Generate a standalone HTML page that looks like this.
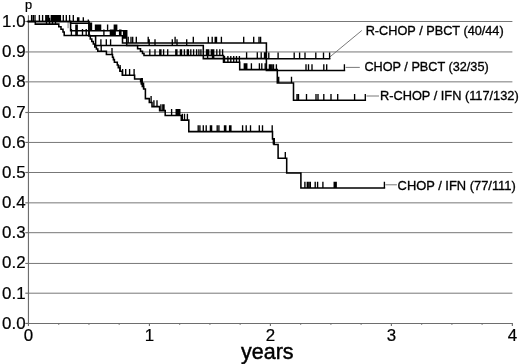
<!DOCTYPE html>
<html><head><meta charset="utf-8"><style>
html,body{margin:0;padding:0;background:#fff;width:520px;height:364px;overflow:hidden}
svg{display:block}
.g{stroke:#777;stroke-width:1}
.ax{stroke:#6e6e6e;stroke-width:1.15}
.ld{stroke:#6a6a6a;stroke-width:0.9}
text{font-family:"Liberation Sans",Arial,sans-serif;fill:#000;stroke:#000;stroke-width:0.22}
.tl{font-size:16.9px;stroke-width:0.22}
.xl{font-size:21.5px;stroke-width:0.45}
.pl{font-size:12.8px}
.lb{font-size:12.6px;stroke-width:0.32}
.c{fill:none;stroke:#000;stroke-width:1.55;stroke-linejoin:miter;stroke-linecap:square}
.t{fill:none;stroke:#000;stroke-width:1.35}
</style></head><body>
<svg width="520" height="364" viewBox="0 0 520 364">
<line x1="28.45" y1="293.20" x2="512.4" y2="293.20" class="g"/>
<line x1="28.45" y1="263.45" x2="512.4" y2="263.45" class="g"/>
<line x1="28.45" y1="232.70" x2="512.4" y2="232.70" class="g"/>
<line x1="28.45" y1="202.85" x2="512.4" y2="202.85" class="g"/>
<line x1="28.45" y1="172.50" x2="512.4" y2="172.50" class="g"/>
<line x1="28.45" y1="142.45" x2="512.4" y2="142.45" class="g"/>
<line x1="28.45" y1="112.50" x2="512.4" y2="112.50" class="g"/>
<line x1="28.45" y1="81.85" x2="512.4" y2="81.85" class="g"/>
<line x1="28.45" y1="51.95" x2="512.4" y2="51.95" class="g"/>
<line x1="28.45" y1="21.50" x2="512.4" y2="21.50" class="g"/>
<line x1="28.45" y1="15.2" x2="28.45" y2="323.95" class="ax"/>
<line x1="27.95" y1="323.45" x2="512.9" y2="323.45" class="ax"/>
<line x1="25.3" y1="323.45" x2="28.45" y2="323.45" class="ax"/>
<line x1="25.3" y1="293.20" x2="28.45" y2="293.20" class="ax"/>
<line x1="25.3" y1="263.45" x2="28.45" y2="263.45" class="ax"/>
<line x1="25.3" y1="232.70" x2="28.45" y2="232.70" class="ax"/>
<line x1="25.3" y1="202.85" x2="28.45" y2="202.85" class="ax"/>
<line x1="25.3" y1="172.50" x2="28.45" y2="172.50" class="ax"/>
<line x1="25.3" y1="142.45" x2="28.45" y2="142.45" class="ax"/>
<line x1="25.3" y1="112.50" x2="28.45" y2="112.50" class="ax"/>
<line x1="25.3" y1="81.85" x2="28.45" y2="81.85" class="ax"/>
<line x1="25.3" y1="51.95" x2="28.45" y2="51.95" class="ax"/>
<line x1="25.3" y1="21.50" x2="28.45" y2="21.50" class="ax"/>
<line x1="28.45" y1="323.45" x2="28.45" y2="326.05" class="ax"/>
<line x1="58.70" y1="323.45" x2="58.70" y2="324.75" class="ax"/>
<line x1="88.94" y1="323.45" x2="88.94" y2="324.75" class="ax"/>
<line x1="119.19" y1="323.45" x2="119.19" y2="324.75" class="ax"/>
<line x1="149.43" y1="323.45" x2="149.43" y2="326.05" class="ax"/>
<line x1="179.67" y1="323.45" x2="179.67" y2="324.75" class="ax"/>
<line x1="209.92" y1="323.45" x2="209.92" y2="324.75" class="ax"/>
<line x1="240.16" y1="323.45" x2="240.16" y2="324.75" class="ax"/>
<line x1="270.41" y1="323.45" x2="270.41" y2="326.05" class="ax"/>
<line x1="300.65" y1="323.45" x2="300.65" y2="324.75" class="ax"/>
<line x1="330.90" y1="323.45" x2="330.90" y2="324.75" class="ax"/>
<line x1="361.14" y1="323.45" x2="361.14" y2="324.75" class="ax"/>
<line x1="391.39" y1="323.45" x2="391.39" y2="326.05" class="ax"/>
<line x1="421.63" y1="323.45" x2="421.63" y2="324.75" class="ax"/>
<line x1="451.88" y1="323.45" x2="451.88" y2="324.75" class="ax"/>
<line x1="482.12" y1="323.45" x2="482.12" y2="324.75" class="ax"/>
<line x1="512.37" y1="323.45" x2="512.37" y2="326.05" class="ax"/>
<text x="25.6" y="328.85" class="tl" text-anchor="end">0.0</text>
<text x="25.6" y="298.66" class="tl" text-anchor="end">0.1</text>
<text x="25.6" y="268.47" class="tl" text-anchor="end">0.2</text>
<text x="25.6" y="238.28" class="tl" text-anchor="end">0.3</text>
<text x="25.6" y="208.09" class="tl" text-anchor="end">0.4</text>
<text x="25.6" y="177.90" class="tl" text-anchor="end">0.5</text>
<text x="25.6" y="147.71" class="tl" text-anchor="end">0.6</text>
<text x="25.6" y="117.52" class="tl" text-anchor="end">0.7</text>
<text x="25.6" y="87.33" class="tl" text-anchor="end">0.8</text>
<text x="25.6" y="57.14" class="tl" text-anchor="end">0.9</text>
<text x="25.6" y="26.95" class="tl" text-anchor="end">1.0</text>
<text x="28.55" y="340.6" class="tl" text-anchor="middle">0</text>
<text x="149.53" y="340.6" class="tl" text-anchor="middle">1</text>
<text x="270.51" y="340.6" class="tl" text-anchor="middle">2</text>
<text x="391.49" y="340.6" class="tl" text-anchor="middle">3</text>
<text x="512.47" y="340.6" class="tl" text-anchor="middle">4</text>
<text x="267.3" y="359.0" class="xl" text-anchor="middle">years</text>
<text x="24.9" y="9.4" class="pl">p</text>
<line x1="361.8" y1="30.5" x2="329.9" y2="56.9" class="ld"/>
<line x1="345.6" y1="67.4" x2="359.8" y2="67.4" class="ld"/>
<line x1="366.5" y1="96.0" x2="379" y2="96.0" class="ld"/>
<line x1="385.4" y1="184.8" x2="396.9" y2="184.8" class="ld"/>
<text x="365.7" y="34.7" class="lb" textLength="138" lengthAdjust="spacingAndGlyphs">R-CHOP / PBCT (40/44)</text>
<text x="364.4" y="70.5" class="lb" textLength="124.3" lengthAdjust="spacingAndGlyphs">CHOP / PBCT (32/35)</text>
<text x="380.0" y="99.5" class="lb" textLength="138.7" lengthAdjust="spacingAndGlyphs">R-CHOP / IFN (117/132)</text>
<text x="397.6" y="189.8" class="lb" textLength="118.2" lengthAdjust="spacingAndGlyphs">CHOP / IFN (77/111)</text>
<path d="M68.1,21.8 V28.2" stroke="#9a9a9a" stroke-width="1.3"/>
<path class="c" d="M28.4,21.4 H35.3 V24.1 H58.8 V26.7 H61 V29.2 H63 V31.9 H64.2 V35.4 H90.3 V38.9 H91.8 V41.4 H93.3 V43.9 H94.8 V46.9 H96.4 V49.0 H97.8 V51.2 H106.4 V54.4 H112.5 V57.2 H113.4 V59.6 H114.4 V62.2 H117.3 V65 H118.3 V67.6 H119.9 V71.2 H122.3 V75.3 H134.6 V78.9 H140.6 V81.4 H141.4 V83.9 H142.3 V86.4 H143.6 V88.9 H145.4 V98.6 H149.3 V102.4 H152 V106.6 H159.6 V110.6 H165.2 V115.4 H181.3 V120.1 H188.8 V131.6 H272.5 V138.9 H274 V144.4 H278.1 V158.3 H286.7 V173 H300.9 V188 H384.4"/>
<path class="c" d="M28.4,21.4 H89 V35.8 H122.5 V43.0 H266.4 V58.8 H329.6"/>
<path class="c" d="M28.4,21.4 H70.6 V30.7 H126.7 V45.5 H203.3 V58.6 H266.4 V70.5 H344.4"/>
<path class="c" d="M70.6,21.4 V23.3 H89 V35.8 H95.6 V45.5 H137.6 V48.7 H140.5 V51.2 H142.5 V53.4 H144 V55.5 H223.5 V62.2 H239.7 V69.6 H277.3 V83.0 H293.5 V100.2 H365.3"/>
<path class="t" d="M31.6,21.4 V15.1 M33.3,21.4 V15.1 M35,21.4 V15.1 M39.4,21.4 V15.1 M42.6,21.4 V15.1 M45.8,21.4 V15.1 M47.2,21.4 V15.1 M48.6,21.4 V15.1 M51.3,21.4 V15.1 M52.6,21.4 V15.1 M53.9,21.4 V15.1 M55.2,21.4 V15.1 M56.5,21.4 V15.1 M57.8,21.4 V15.1 M59.1,21.4 V15.1 M60.4,21.4 V15.1 M63.3,21.4 V15.1 M66.3,21.4 V15.1 M69.6,21.4 V15.1 M73.3,21.4 V15.1 M77.6,21.4 V17.2 M78.8,21.4 V17.2 M83.3,21.4 V17.2 M88.3,21.4 V19.6 M46.5,24.1 V17.8 M49.5,24.1 V17.8 M52.5,24.1 V17.8 M55.5,24.1 V17.8 M71.4,35.4 V29.1 M75.9,35.4 V29.1 M77.2,35.4 V29.1 M82.5,35.4 V29.1 M86.2,35.4 V29.1 M75.9,30.7 V24.4 M77.2,30.7 V24.4 M95.5,30.7 V24.4 M96.8,30.7 V24.4 M98,30.7 V24.4 M99.3,30.7 V24.4 M100.6,30.7 V24.4 M107.6,30.7 V24.4 M114.3,30.7 V24.4 M115.5,30.7 V24.4 M116.7,30.7 V24.4 M90.3,30.7 V22.4 M91.5,30.7 V22.4 M103.9,35.8 V29.5 M110.4,35.8 V29.5 M111.6,35.8 V29.5 M112.8,35.8 V29.5 M114,35.8 V29.5 M115.2,35.8 V29.5 M119.6,35.8 V29.5 M120.9,35.8 V29.5 M100.9,45.5 V39.2 M106.3,45.5 V39.2 M110.6,45.5 V39.2 M149.2,45.5 V39.2 M155,45.5 V39.2 M172.3,45.5 V39.2 M177,45.5 V39.2 M186.7,45.5 V39.2 M128.2,43.0 V36.7 M131,43.0 V36.7 M132.7,43.0 V36.7 M136.3,43.0 V36.7 M148.2,43.0 V36.7 M175.1,43.0 V36.7 M193.3,43.0 V36.7 M208.3,43.0 V36.7 M212.2,43.0 V36.7 M215.2,43.0 V36.7 M216.5,43.0 V36.7 M221.4,43.0 V36.7 M243.7,43.0 V36.7 M253.7,43.0 V36.7 M259,43.0 V36.7 M260.6,43.0 V36.7 M149.8,55.5 V49.2 M155,55.5 V49.2 M159.8,55.5 V49.2 M160.9,55.5 V49.2 M163.6,55.5 V49.2 M167.7,55.5 V49.2 M175.8,55.5 V49.2 M176.9,55.5 V49.2 M180.4,55.5 V49.2 M181.5,55.5 V49.2 M184.4,55.5 V49.2 M187.3,55.5 V49.2 M188.4,55.5 V49.2 M190.8,55.5 V49.2 M193.6,55.5 V49.2 M196.6,55.5 V49.2 M198.9,55.5 V49.2 M200.9,55.5 V49.2 M206.5,55.5 V49.2 M207.6,55.5 V49.2 M208.7,55.5 V49.2 M211.3,55.5 V49.2 M212.5,55.5 V49.2 M213.7,55.5 V49.2 M216.8,55.5 V49.2 M219.8,55.5 V49.2 M222.6,55.5 V49.2 M207.6,58.6 V52.3 M212.5,58.6 V52.3 M213.7,58.6 V52.3 M246.6,58.6 V52.3 M257.3,58.6 V52.3 M261.2,58.6 V52.3 M264.5,58.6 V52.3 M265.8,58.6 V52.3 M224.5,62.2 V55.9 M227.9,62.2 V55.9 M230.8,62.2 V55.9 M233.7,62.2 V55.9 M236.5,62.2 V55.9 M239.4,62.2 V55.9 M244.3,69.6 V63.3 M245.5,69.6 V63.3 M246.8,69.6 V63.3 M251.4,69.6 V63.3 M259.4,69.6 V63.3 M261.8,69.6 V63.3 M265.2,69.6 V63.3 M268.8,58.8 V52.5 M278.1,58.8 V52.5 M294.2,58.8 V52.5 M299.6,58.8 V52.5 M305,58.8 V52.5 M315.8,58.8 V52.5 M323.5,58.8 V52.5 M329.6,58.8 V52.5 M269.4,70.5 V64.2 M270.6,70.5 V64.2 M272,70.5 V64.2 M273.5,70.5 V64.2 M276.4,70.5 V64.2 M306,70.5 V64.2 M308.5,70.5 V64.2 M312,70.5 V64.2 M323.8,70.5 V64.2 M326.7,70.5 V64.2 M344.4,70.5 V64.2 M278.7,83.0 V76.7 M291.5,83.0 V76.7 M297,100.2 V93.9 M298.5,100.2 V93.9 M306.5,100.2 V93.9 M316,100.2 V93.9 M318,100.2 V93.9 M323.8,100.2 V93.9 M331,100.2 V93.9 M337.7,100.2 V93.9 M354.6,100.2 V93.9 M365.3,100.2 V93.9 M112,54.4 V48.1 M101.2,51.2 V44.9 M123.6,38.8 V31.0 M124.6,38.8 V31.0 M125.6,38.8 V31.0 M122.6,75.3 V69.0 M125.7,75.3 V69.0 M129.6,75.3 V69.0 M134.1,75.3 V69.0 M120.1,71.2 V64.9 M141.4,84.2 V77.9 M142.3,84.2 V77.9 M143.6,88.9 V82.6 M151.1,102.4 V96.1 M153.9,106.6 V100.3 M157,106.6 V100.3 M160.9,110.6 V104.3 M162.8,110.6 V104.3 M164,110.6 V104.3 M171.6,115.4 V109.1 M176.2,115.4 V109.1 M177.4,115.4 V109.1 M178.6,115.4 V109.1 M179.8,115.4 V109.1 M182.3,120.1 V113.8 M184.5,120.1 V113.8 M187.4,120.1 V113.8 M198.2,131.6 V125.3 M199.9,131.6 V125.3 M203.3,131.6 V125.3 M206.2,131.6 V125.3 M210.4,131.6 V125.3 M211.6,131.6 V125.3 M217.2,131.6 V125.3 M218.9,131.6 V125.3 M224.5,131.6 V125.3 M225.8,131.6 V125.3 M229.6,131.6 V125.3 M230.9,131.6 V125.3 M242.6,131.6 V125.3 M246.2,131.6 V125.3 M250.5,131.6 V125.3 M259.3,131.6 V125.3 M262.5,131.6 V125.3 M272.2,131.6 V125.3 M285.3,158.3 V152.0 M273.3,144.4 V138.1 M274.3,144.4 V138.1 M304.9,188.0 V181.7 M307.3,188.0 V181.7 M308.8,188.0 V181.7 M310.3,188.0 V181.7 M315.2,188.0 V181.7 M317.6,188.0 V181.7 M322.9,188.0 V181.7 M334.2,188.0 V181.7 M335.2,188.0 V181.7 M336.2,188.0 V181.7 M384.4,188.0 V181.7"/>
</svg>
</body></html>
